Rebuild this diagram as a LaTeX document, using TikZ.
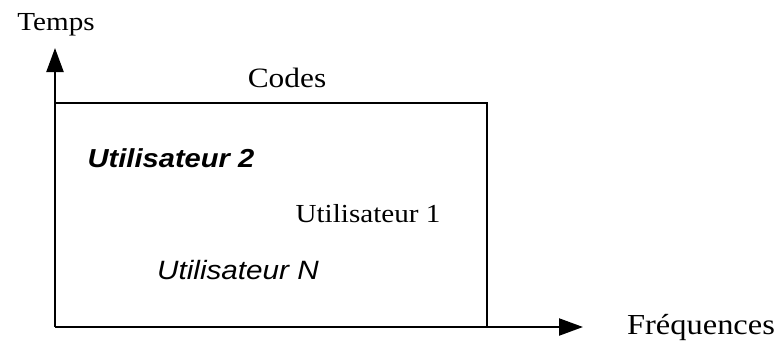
\documentclass[tikz,border=0pt]{standalone}
\usepackage{fontspec}
\setmainfont{Liberation Serif}[FakeStretch=1.12]
\newfontfamily\labelsans{Liberation Sans}[FakeStretch=1.12]
\usetikzlibrary{arrows.meta}
\begin{document}
\begin{tikzpicture}[x=1bp, y=-1bp,
  axis/.style={line width=2.2bp, -{Triangle[length=24bp, width=17bp]}},
  frame/.style={line width=2.2bp},
  serif/.style={font=\fontsize{26bp}{30bp}\selectfont, anchor=base, inner sep=0pt},
  sanslabel/.style={font=\fontsize{26.5bp}{30bp}\selectfont\labelsans\itshape, anchor=base, inner sep=0pt}]
  \useasboundingbox (0,0) rectangle (776,345);
  % axes
  \coordinate (o) at (55,327);
  \coordinate (tEnd) at (55,48);
  \coordinate (fEnd) at (583,327);
  \coordinate (tl) at (55,103);
  \coordinate (tr) at (487,103);
  \coordinate (br) at (487,327);
  \draw[frame] (tl) -- (tr) -- (br);
  \draw[axis] (o) -- (tEnd);
  \draw[axis] (o) -- (fEnd);
  % labels
  \node[serif] (temps) at (56,30) {Temps};
  \node[serif, font=\fontsize{28bp}{32bp}\selectfont] (codes) at (287,87) {Codes};
  \node[serif, font=\fontsize{29bp}{33bp}\selectfont] (freq) at (701,334) {Fréquences};
  \node[serif] (u1) at (368,222) {Utilisateur 1};
  \node[sanslabel, font=\fontsize{26bp}{30bp}\selectfont\labelsans\bfseries\itshape] (u2) at (171,167) {Utilisateur 2};
  \node[sanslabel] (un) at (238,279) {Utilisateur N};
\end{tikzpicture}
\end{document}
